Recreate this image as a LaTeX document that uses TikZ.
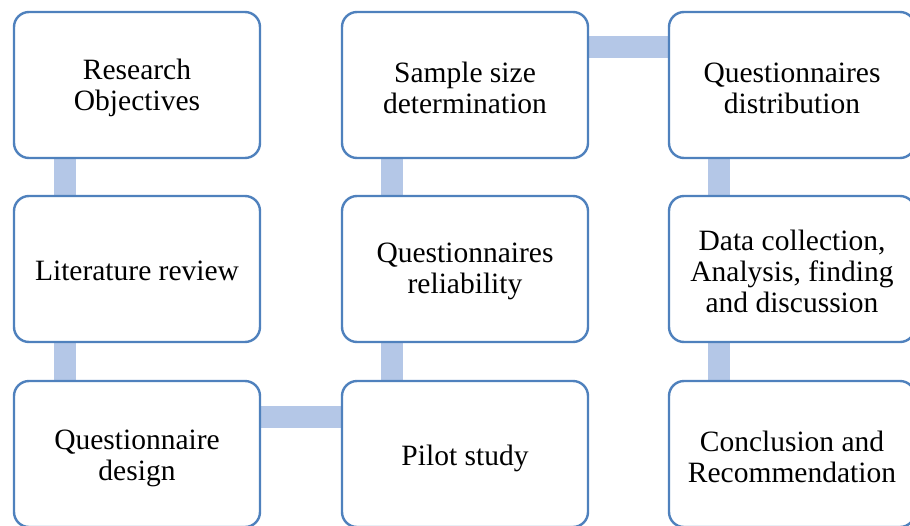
\documentclass[tikz,border=0pt]{standalone}
\usepackage{fontspec}
\setmainfont{Liberation Serif}
\usetikzlibrary{backgrounds}
\definecolor{boxblue}{HTML}{4F81BD}
\definecolor{linkblue}{HTML}{B4C7E7}
\begin{document}
\begin{tikzpicture}[x=1pt,y=-1pt,
  stagebox/.style={rectangle, rounded corners=15pt, draw=boxblue, line width=2.4pt,
    fill=white, minimum width=246pt, minimum height=146pt, inner sep=0pt},
  stagetext/.style={inner sep=0pt, align=center, font=\fontsize{29.5}{31}\selectfont},
  link/.style={draw=linkblue, line width=22pt}]
\useasboundingbox (0,0) rectangle (910,525);
\clip (0,0) rectangle (910,525);

% three columns of process steps
\node[stagebox] (a1) at (137,85)  {};
\node[stagebox] (a2) at (137,269) {};
\node[stagebox] (a3) at (137,454) {};
\node[stagebox] (b1) at (465,85)  {};
\node[stagebox] (b2) at (465,269) {};
\node[stagebox] (b3) at (465,454) {};
\node[stagebox] (c1) at (792,85)  {};
\node[stagebox] (c2) at (792,269) {};
\node[stagebox] (c3) at (792,454) {};

% step labels, set slightly below each box centre
\node[stagetext] (ta1) at ([yshift=-3pt]a1.center) {Research\\Objectives};
\node[stagetext] (ta2) at ([yshift=-2pt]a2.center) {Literature review};
\node[stagetext] (ta3) at ([yshift=-4pt]a3.center) {Questionnaire\\design};
\node[stagetext] (tb1) at ([yshift=-3pt]b1.center) {Sample size\\determination};
\node[stagetext] (tb2) at ([yshift=-2pt]b2.center) {Questionnaires\\reliability};
\node[stagetext] (tb3) at ([yshift=-4pt]b3.center) {Pilot study};
\node[stagetext] (tc1) at ([yshift=-3pt]c1.center) {Questionnaires\\distribution};
\node[stagetext] (tc2) at ([yshift=-2pt]c2.center) {Data collection,\\Analysis, finding\\and discussion};
\node[stagetext] (tc3) at ([yshift=-3pt]c3.center) {Conclusion and\\Recommendation};

% connecting bars behind the boxes
\begin{scope}[on background layer]
  \draw[link] ([xshift=52pt]a1.south west) -- ([xshift=52pt]a2.north west);
  \draw[link] ([xshift=52pt]a2.south west) -- ([xshift=52pt]a3.north west);
  \draw[link] ([yshift=-37pt]a3.north east) -- ([yshift=-37pt]b3.north west);
  \draw[link] ([xshift=51pt]b3.north west) -- ([xshift=51pt]b2.south west);
  \draw[link] ([xshift=51pt]b2.north west) -- ([xshift=51pt]b1.south west);
  \draw[link] ([yshift=-36pt]b1.north east) -- ([yshift=-36pt]c1.north west);
  \draw[link] ([xshift=51pt]c1.south west) -- ([xshift=51pt]c2.north west);
  \draw[link] ([xshift=51pt]c2.south west) -- ([xshift=51pt]c3.north west);
\end{scope}
\end{tikzpicture}
\end{document}
